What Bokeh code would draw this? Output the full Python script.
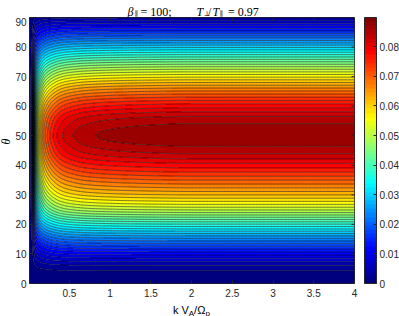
import numpy as np
from bokeh.plotting import figure
from bokeh.layouts import column, row
from bokeh.models import (Range1d, FixedTicker, ColorBar, LinearColorMapper, CustomJSTickFormatter)
from bokeh.core.properties import value
from bokeh.embed import file_html
from bokeh.resources import INLINE

# ---- data ----
# growth rate vs propagation angle at large k (k V_A/Omega_p >~ 1.5)
theta_pts = [0, 2.5, 5, 7.5, 10, 15, 20, 25, 30, 35, 40, 45, 50, 55, 60, 65, 70, 75, 80, 85, 90]
gamma_theta = [0.0, 0.0008, 0.003, 0.007, 0.012, 0.024, 0.038, 0.052, 0.063, 0.072, 0.080,
               0.0865, 0.0895, 0.087, 0.080, 0.070, 0.058, 0.045, 0.031, 0.017, 0.004]
# relative growth-rate factor vs k (fraction of the large-k value)
k_pts = [0.01, 0.02, 0.04, 0.06, 0.08, 0.10, 0.12, 0.15, 0.20, 0.30, 0.40, 0.50, 0.70, 1.0, 1.5, 2.0, 4.0]
k_factor = [0.0, 0.02, 0.10, 0.30, 0.48, 0.58, 0.65, 0.72, 0.80, 0.88, 0.925, 0.948, 0.972, 0.986, 0.996, 1.0, 1.0]

x_ticks = [0.5, 1, 1.5, 2, 2.5, 3, 3.5, 4]
y_ticks = [0, 10, 20, 30, 40, 50, 60, 70, 80, 90]
cb_ticks = [0, 0.01, 0.02, 0.03, 0.04, 0.05, 0.06, 0.07, 0.08]
x_min, x_max = 0.01, 4
y_min, y_max = 0, 90
z_max = 0.0899
n_levels = 40


def pchip(xk, yk, x):
    xk = np.asarray(xk, float); yk = np.asarray(yk, float)
    h = np.diff(xk); delta = np.diff(yk) / h
    d = np.zeros_like(yk)
    for i in range(1, len(xk) - 1):
        if delta[i - 1] * delta[i] > 0:
            w1 = 2 * h[i] + h[i - 1]; w2 = h[i] + 2 * h[i - 1]
            d[i] = (w1 + w2) / (w1 / delta[i - 1] + w2 / delta[i])
    d[0] = delta[0]; d[-1] = delta[-1]
    i = np.clip(np.searchsorted(xk, x) - 1, 0, len(xk) - 2)
    t = (x - xk[i]) / h[i]
    h00 = 2 * t**3 - 3 * t**2 + 1; h10 = t**3 - 2 * t**2 + t
    h01 = -2 * t**3 + 3 * t**2; h11 = t**3 - t**2
    return h00 * yk[i] + h10 * h[i] * d[i] + h01 * yk[i + 1] + h11 * h[i] * d[i + 1]


kk = np.unique(np.concatenate([np.linspace(x_min, 0.6, 300), np.linspace(0.6, x_max, 200)]))
tt = np.linspace(y_min, y_max, 361)
G = pchip(theta_pts, gamma_theta, tt)
H = pchip(k_pts, k_factor, kk)
Z = np.clip(np.outer(G, H), 0, None)


def jet(x):
    x = np.clip(x, 0, 1)
    r = np.clip(1.5 - abs(4 * x - 3), 0, 1)
    g = np.clip(1.5 - abs(4 * x - 2), 0, 1)
    b = np.clip(1.5 - abs(4 * x - 1), 0, 1)
    return "#%02x%02x%02x" % (int(r * 255), int(g * 255), int(b * 255))


levels = list(np.linspace(0, z_max, n_levels + 1))
levels[0] = -1e-6
fills = [jet(max(levels[i], 0) / z_max) for i in range(n_levels)]
jet64 = [jet(i / 63) for i in range(64)]

AX = "#262626"
FONT = "Liberation Sans"
SERIF = "Liberation Serif"
SYM = "DejaVu Serif"
W = 399
TITLE_H, MAIN_H, XLAB_H, YLAB_W = 17, 283, 16, 12
FW, FH = 326, 266
BL = 16


def blank_fig(w, h):
    f = figure(width=w, height=h, x_range=Range1d(0, w), y_range=Range1d(0, h),
               output_backend="svg", toolbar_location=None, min_border=0,
               x_axis_location=None, y_axis_location=None)
    f.grid.visible = False
    f.outline_line_color = None
    return f


# ---------------- main plot ----------------
p = figure(width=W - YLAB_W, height=MAIN_H, x_range=Range1d(x_min, x_max),
           y_range=Range1d(y_min, y_max), output_backend="svg", toolbar_location=None,
           min_border_left=BL, min_border_right=W - YLAB_W - BL - FW, min_border_top=0,
           min_border_bottom=MAIN_H - FH)
p.grid.visible = False
p.outline_line_color = AX
p.outline_line_width = 1

p.contour(x=kk, y=tt, z=Z, levels=levels, fill_color=fills, line_color="black",
          line_width=0.6, line_alpha=0.85)

# inward ticks on the top and right edges (box on)
p.ray(x=x_ticks, y=[y_max] * len(x_ticks), length=3, length_units="screen",
      angle=-np.pi / 2, line_color=AX, line_width=1)
p.ray(x=[x_max] * len(y_ticks), y=y_ticks, length=3, length_units="screen",
      angle=np.pi, line_color=AX, line_width=1)


def style_axis(ax, ticks):
    ax.ticker = FixedTicker(ticks=ticks, minor_ticks=[])
    ax.major_tick_in = 3
    ax.major_tick_out = 0
    ax.minor_tick_line_color = None
    ax.axis_line_color = None
    ax.major_tick_line_color = AX
    ax.major_label_text_font = FONT
    ax.major_label_text_font_size = "10px"
    ax.major_label_text_color = AX
    ax.formatter = CustomJSTickFormatter(code="return tick.toString();")


style_axis(p.xaxis[0], x_ticks)
p.xaxis[0].major_label_standoff = 5
style_axis(p.yaxis[0], y_ticks)
p.yaxis[0].major_label_standoff = 3

mapper = LinearColorMapper(palette=jet64, low=0, high=z_max)
cb = ColorBar(color_mapper=mapper, ticker=FixedTicker(ticks=cb_ticks, minor_ticks=[]),
              width=12, height=FH, padding=0, margin=0, location=(FW + 9, 0),
              major_tick_in=3, major_tick_out=0, major_tick_line_color=AX,
              minor_tick_line_color=None, bar_line_color=AX, label_standoff=3,
              major_label_text_font=FONT, major_label_text_font_size="10px",
              major_label_text_color=AX, background_fill_color=None, border_line_color=None,
              formatter=CustomJSTickFormatter(code="return tick == 0 ? '0' : tick.toFixed(2);"))
p.add_layout(cb)

# ---------------- title: beta_par = 100;   T_perp/T_par = 0.97 ----------------
t = blank_fig(W, TITLE_H)
base, sub = 5.5, 3.5
t.text(x=[127, 196, 212], y=[base] * 3, text=["β", "T", "T"], text_font=value(SERIF),
       text_font_size="12px", text_font_style="italic", text_color="black", text_baseline="alphabetic")
t.text(x=[140, 207.5, 227.5], y=[base] * 3, text=["= 100;", "/", "= 0.97"], text_font=value(SERIF),
       text_font_size="12px", text_color="black", text_baseline="alphabetic")
t.text(x=[134.3, 203.3, 219.3], y=[sub] * 3, text=["∥", "⊥", "∥"], text_font=value(SYM),
       text_font_size="7px", text_color="black", text_baseline="alphabetic")

# ---------------- y label ----------------
yl = blank_fig(YLAB_W, MAIN_H)
yl.text(x=[5.5], y=[MAIN_H - (149 - TITLE_H)], text=["θ"], text_font=value(SERIF),
        text_font_size="12px", text_font_style="italic", text_color="black",
        text_align="center", text_baseline="middle", angle=np.pi / 2)

# ---------------- x label: k V_A / Omega_p ----------------
xl = blank_fig(W, XLAB_H)
xb, xs = 6.5, 3.5
xl.text(x=[172.4, 193.6], y=[xb, xb], text=["k V", "/Ω"], text_font=value(FONT),
        text_font_size="11px", text_color="black", text_baseline="alphabetic")
xl.text(x=[188.3, 205.1], y=[xs, xs], text=["A", "p"], text_font=value(FONT),
        text_font_size="8px", text_color="black", text_baseline="alphabetic")

layout = column(t, row(yl, p), xl)
open("out.html", "w").write(file_html(layout, INLINE))
